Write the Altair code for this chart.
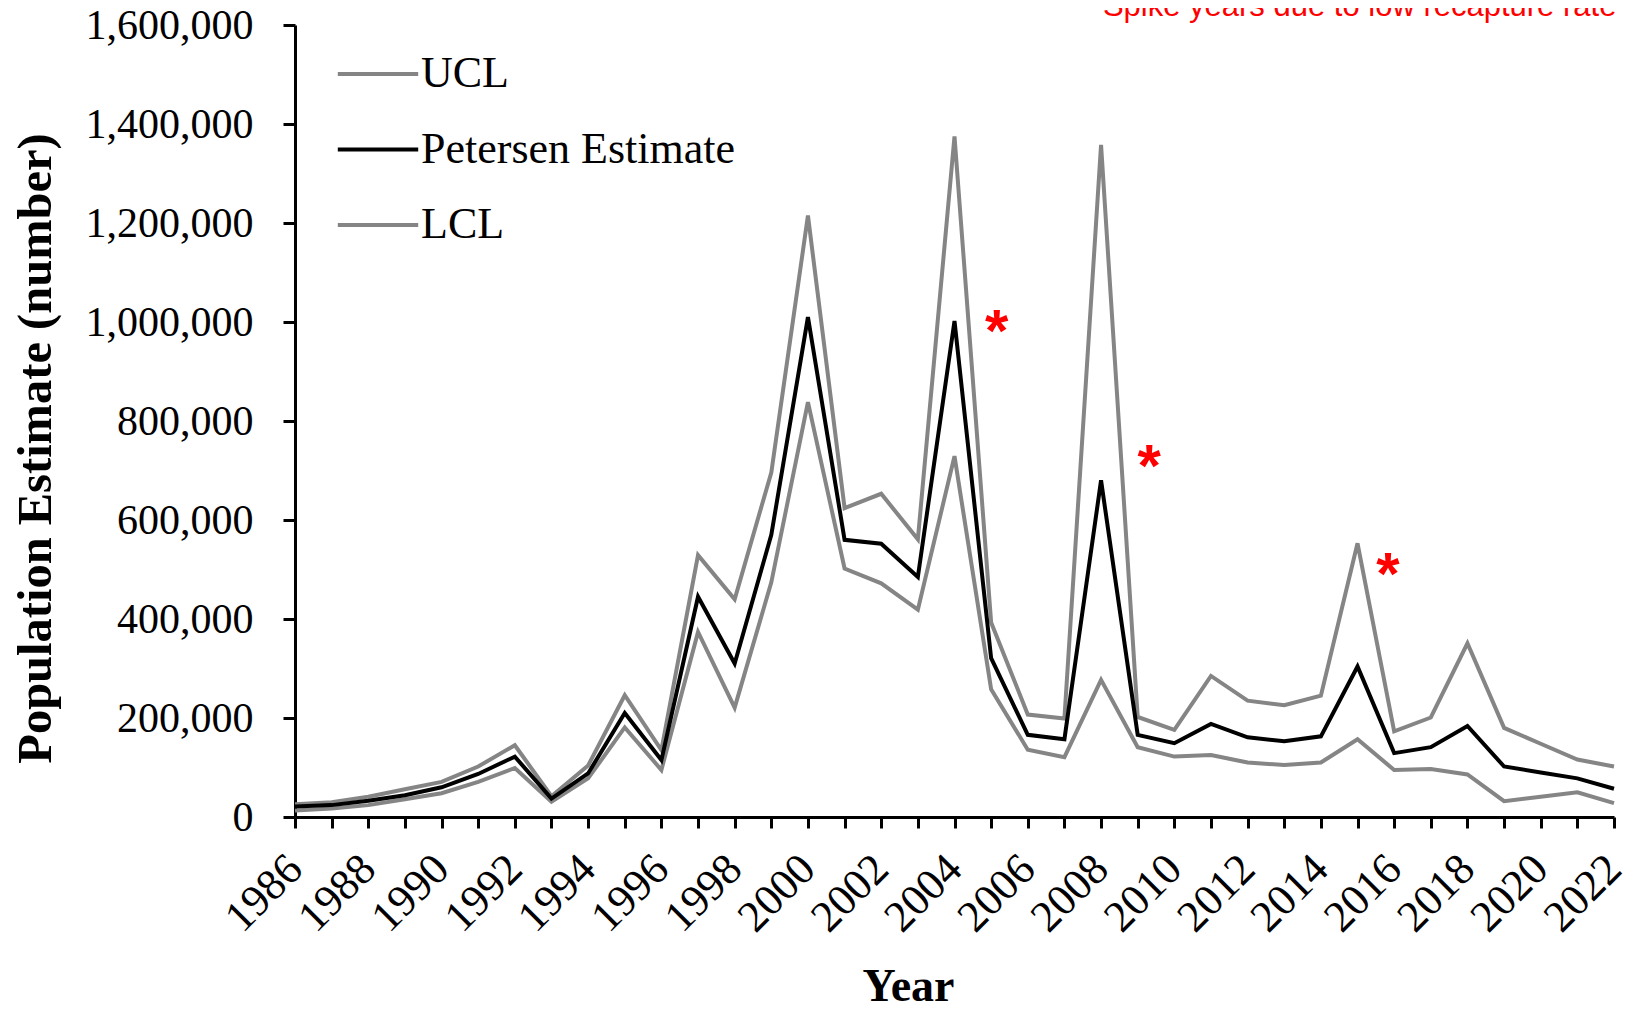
import altair as alt
import pandas as pd

years = list(range(1986, 2023))
petersen = [21000, 24000, 33000, 44000, 60000, 87000, 122000, 37000, 88000, 210000,
            115000, 445000, 310000, 570000, 1010000, 560000, 552000, 485000, 1002000, 321000,
            166000, 157000, 680000, 166000, 149000, 188000, 161000, 153000, 163000, 304000,
            129000, 141000, 184000, 102000, 90000, 78000, 57000]
ucl = [26000, 30000, 41000, 56000, 71000, 102000, 145000, 42000, 104000, 246000,
       135000, 529000, 440000, 696000, 1215000, 624000, 653000, 561000, 1375000, 393000,
       207000, 199000, 1358000, 202000, 176000, 285000, 235000, 226000, 245000, 553000,
       173000, 201000, 351000, 180000, 148000, 116000, 102000]
lcl = [13000, 17000, 24000, 36000, 48000, 71000, 99000, 31000, 78000, 181000,
       95000, 374000, 221000, 474000, 838000, 502000, 472000, 419000, 729000, 258000,
       136000, 121000, 277000, 141000, 122000, 125000, 110000, 105000, 110000, 157000,
       95000, 97000, 86000, 32000, 41000, 50000, 28000]

series_names = ["UCL", "Petersen Estimate", "LCL"]
series_colors = ["#858585", "#000000", "#858585"]

star_years = [2005.15, 2009.31, 2015.83]
star_values = [941000, 669000, 450500]
star_labels = ["*", "*", "*"]

note_text = ["Spike years due to low recapture rate"]
note_year = [2008.05]
note_value = [1619000]

y_ticks = list(range(0, 1600001, 200000))

rows = []
for name, vals in zip(series_names, [ucl, petersen, lcl]):
    for yr, v in zip(years, vals):
        rows.append({"Year": yr, "Value": v, "Series": name})
df = pd.DataFrame(rows)
stars = pd.DataFrame({"Year": star_years, "Value": star_values, "Label": star_labels})
note = pd.DataFrame({"Year": note_year, "Value": note_value, "Label": note_text})

SERIF = "Liberation Serif"

x_axis = alt.Axis(
    title="Year", values=years, format="d",
    labelExpr="datum.value % 2 == 0 ? datum.label : ''",
    labelFont=SERIF, labelFontSize=44, labelColor="black",
    labelAngle=315, labelAlign="right", labelBaseline="middle", labelPadding=34,
    labelOverlap=False, labelFlush=False, labelBound=False,
    tickSize=11, tickWidth=3, tickColor="black",
    domainWidth=3, domainColor="black", grid=False,
    titleFont=SERIF, titleFontSize=46, titleFontWeight="bold", titleColor="black",
    titleX=613, titleY=183, titleAlign="center", titleBaseline="alphabetic",
)
y_axis = alt.Axis(
    title="Population Estimate (number)", values=y_ticks, format=",d",
    labelFont=SERIF, labelFontSize=42, labelColor="black", labelPadding=30,
    labelFlush=False, labelOverlap=False,
    tickSize=12, tickWidth=3, tickColor="black",
    domainWidth=3, domainColor="black", grid=False,
    titleFont=SERIF, titleFontSize=48.5, titleFontWeight="bold", titleColor="black",
    titleAngle=270, titleX=-260, titleY=423, titleAlign="center", titleBaseline="middle",
)

x_enc = alt.X("Year:Q", scale=alt.Scale(domain=[1986, 2022], nice=False, zero=False), axis=x_axis)
y_enc = alt.Y("Value:Q", scale=alt.Scale(domain=[0, 1600000], nice=False), axis=y_axis)

color_enc = alt.Color(
    "Series:N",
    scale=alt.Scale(domain=series_names, range=series_colors),
    legend=alt.Legend(
        title=None, orient="none", legendX=47.5, legendY=13.5,
        symbolType="M-1.2,0H1.2", symbolSize=4489, symbolStrokeWidth=4,
        labelFont=SERIF, labelFontSize=44, labelColor="black", labelOffset=7.5,
        labelLimit=0, rowPadding=17.5, padding=0,
    ),
)

gray_lines = alt.Chart(df).transform_filter(
    "datum.Series != 'Petersen Estimate'"
).mark_line(strokeWidth=4).encode(x=x_enc, y=y_enc, color=color_enc)

black_line = alt.Chart(df).transform_filter(
    "datum.Series == 'Petersen Estimate'"
).mark_line(strokeWidth=4).encode(x=x_enc, y=y_enc, color=color_enc)

star_layer = alt.Chart(stars).mark_text(
    font="Liberation Sans", fontSize=60, fontWeight="bold", color="#ff0000",
    align="center", baseline="alphabetic",
).encode(x=x_enc, y=y_enc, text="Label:N")

note_layer = alt.Chart(note).mark_text(
    font="Liberation Sans", fontSize=31, color="#ff0000",
    align="left", baseline="alphabetic",
).encode(x=x_enc, y=y_enc, text="Label:N")

chart = alt.layer(gray_lines, black_line, star_layer, note_layer).properties(
    width=1319, height=792,
    autosize=alt.AutoSizeParams(type="none"),
    padding={"left": 287, "top": 17, "right": 10, "bottom": 184},
    background="white",
).configure_view(stroke=None)

chart.save("out.html", embed_options={"renderer": "svg", "actions": False})
